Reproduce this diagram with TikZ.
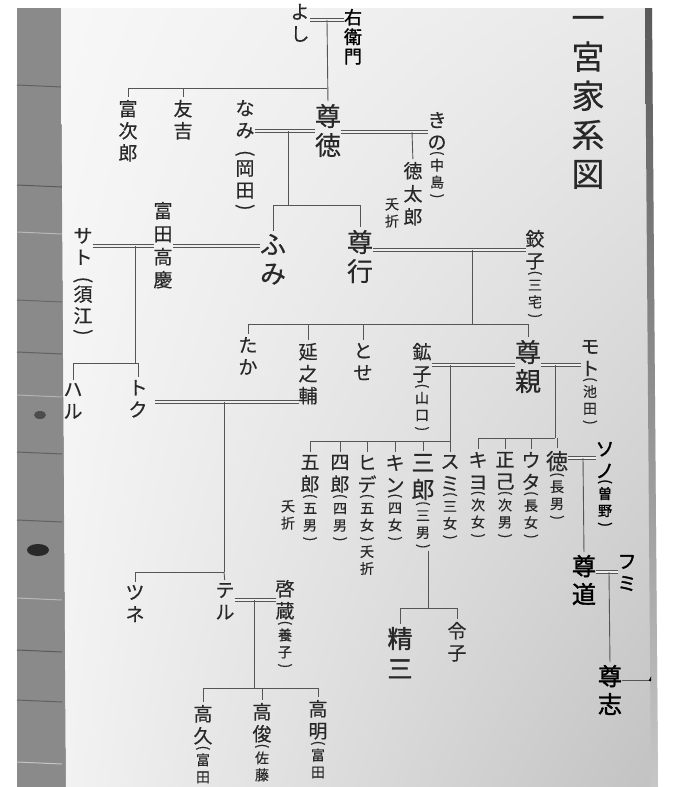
\documentclass[tikz,border=0pt]{standalone}
\usepackage{fontspec}
\usetikzlibrary{shadings}
\newfontfamily\cjk[FakeBold=0.4]{Noto Sans CJK JP}
\newfontfamily\cjkb[FakeBold=1.6]{Noto Sans CJK JP}
\newcommand{\vlp}{\rotatebox[origin=c]{-90}{(}}
\newcommand{\vrp}{\rotatebox[origin=c]{-90}{)}}
\definecolor{ink}{HTML}{282828}
\definecolor{lnc}{HTML}{555555}
\definecolor{paperc}{HTML}{EEEEEE}
\definecolor{wood}{HTML}{8A8A8A}
\begin{document}
\begin{tikzpicture}[x=1pt,y=-1pt,
  every node/.style={inner sep=0pt,outer sep=0pt,align=center,anchor=north,text=ink},
  nm/.style={font=\cjk\fontsize{19}{22}\selectfont},
  big/.style={font=\cjk\fontsize{26}{29}\selectfont},
  sm/.style={font=\cjk\fontsize{14}{17}\selectfont},
  ttl/.style={font=\cjk\fontsize{33}{39}\selectfont},
  hw/.style={font=\cjkb\fontsize{19}{22}\selectfont,text=black},
  hwbig/.style={font=\cjkb\fontsize{24}{28}\selectfont,text=black},
  hwsm/.style={font=\cjkb\fontsize{14}{17}\selectfont,text=black},
  ln/.style={draw=lnc,line width=0.9pt},
  dbl/.style={draw=lnc,line width=0.7pt,double=paperc,double distance=1.8pt},
  drop/.style={ln,shorten >=3pt},
]
\useasboundingbox (0,0) rectangle (675,787);
% ---------- background (photo) ----------
\fill[white] (0,0) rectangle (675,787);
\fill[wood] (17,8) -- (61,8) -- (66,787) -- (17,787) -- cycle;
\foreach \yy/\cc in {85/wood!70!black,185/wood!65!black,232/wood!60!white,300/wood!75!black,352/wood!70!black,395/wood!65!white,452/wood!70!black,520/wood!70!black,598/wood!60!white,650/wood!65!black,700/wood!70!black,762/wood!50!white}
  \draw[\cc,line width=1pt] (17,\yy) -- (62,\yy+2);
\fill[wood!55!black] (40,415) ellipse (6pt and 4pt);
\fill[wood!30!black] (38,550) ellipse (11pt and 6pt);
\shade[upper left=black!3,upper right=black!9,lower left=black!5,lower right=black!24]
  (61,8) -- (652,8) -- (658,787) -- (66,787) -- cycle;
\shade[top color=black!65,bottom color=black!22] (645,8) -- (652,8) -- (658,787) -- (651,787) -- cycle;
% ---------- title ----------
\node[ttl] (title) at (588,16) {一\\宮\\家\\系\\図};
% ---------- generation 1 ----------
\node[nm] (yoshi) at (300,4) {よ\\し};
\node[hw,font=\cjkb\fontsize{18}{19.5}\selectfont] (uemon) at (353,9) {右\\衛\\門};
\coordinate (mY) at (327,20);
\draw[dbl] (yoshi.east |- mY) -- (uemon.west |- mY);
% ---------- generation 2 ----------
\node[big] (sontoku) at (328,104) {尊\\徳};
\node[nm] (tomijiro) at (128,100) {富\\次\\郎};
\node[nm] (tomokichi) at (183,100) {友\\吉};
\coordinate (bY) at (327,88);
\draw[drop] (mY) -- (sontoku.north);
\draw[ln] (tomijiro.north |- bY) -- (bY);
\draw[drop] (tomijiro.north |- bY) -- (tomijiro.north);
\draw[drop] (tomokichi.north |- bY) -- (tomokichi.north);
\node[nm] (nami) at (245,100) {な\\み\\\vlp\\[-6pt]岡\\田\\[-6pt]\vrp};
\coordinate (mN) at (288,131);
\draw[dbl] (nami.east |- mN) -- (sontoku.west |- mN);
\node[nm] (kino) at (437,112) {き\\の};
\node[sm] (kinoA) at ([yshift=-1pt]kino.south) {\vlp\\[-4pt]中\\島\\[-4pt]\vrp};
\coordinate (mK) at (412,132);
\draw[dbl] (sontoku.east |- mK) -- (kino.west |- mK);
\node[nm,font=\cjk\fontsize{19}{23}\selectfont] (tokutaro) at (413,162) {徳\\太\\郎};
\draw[drop] (mK) -- (tokutaro.north);
\node[sm] (yo1) at (392,198) {夭\\折};
% ---------- generation 3 ----------
\node[big] (fumi) at (273,234) {ふ\\み};
\node[big] (takayuki) at (360,230) {尊\\行};
\coordinate (cN) at (288,205);
\draw[ln] (mN) -- (cN);
\draw[ln] (fumi.north |- cN) -- (takayuki.north |- cN);
\draw[drop] (fumi.north |- cN) -- (fumi.north);
\draw[drop] (takayuki.north |- cN) -- (takayuki.north);
\node[nm,font=\cjk\fontsize{19}{23}\selectfont] (takayoshi) at (163,202) {富\\田\\高\\慶};
\node[nm,font=\cjk\fontsize{19}{21.5}\selectfont] (sato) at (83,228) {サ\\ト\\\vlp\\[-6pt]須\\江\\[-6pt]\vrp};
\coordinate (mS) at (135,246);
\draw[dbl] (sato.east |- mS) -- (takayoshi.west |- mS);
\draw[dbl] (takayoshi.east |- mS) -- (fumi.west |- mS);
\node[nm] (haru) at (73,383) {ハ\\ル};
\node[nm] (toku) at (138,380) {ト\\ク};
\coordinate (cS) at (135,363);
\draw[ln] (mS) -- (cS);
\draw[ln] (haru.north |- cS) -- (toku.north |- cS);
\draw[drop] (haru.north |- cS) -- (haru.north);
\draw[drop] (toku.north |- cS) -- (toku.north);
\node[nm] (koko1) at (535,230) {鉸\\子};
\node[sm] (koko1A) at ([yshift=-1pt]koko1.south) {\vlp\\[-4pt]三\\宅\\[-4pt]\vrp};
\coordinate (mT) at (472,250);
\draw[dbl] (takayuki.east |- mT) -- (koko1.west |- mT);
% ---------- generation 4 ----------
\coordinate (cT) at (472,324);
\draw[ln] (mT) -- (cT);
\node[nm] (taka) at (248,337) {た\\か};
\node[nm] (nobu) at (308,343) {延\\之\\輔};
\node[nm] (tose) at (363,343) {と\\せ};
\node[big] (chika) at (528,340) {尊\\親};
\draw[ln] (taka.north |- cT) -- (chika.north |- cT);
\foreach \n in {taka,nobu,tose,chika} \draw[drop] (\n.north |- cT) -- (\n.north);
% Nobunosuke x Toku
\coordinate (mNT) at (224,402);
\draw[dbl,shorten <=7pt] (toku.east |- mNT) -- (nobu.west |- mNT);
\coordinate (cNT) at (224,572);
\draw[ln] (mNT) -- (cNT);
\node[nm] (tsune) at (135,585) {ツ\\ネ};
\node[nm] (teru) at (225,583) {テ\\ル};
\draw[ln] (tsune.north |- cNT) -- (cNT);
\draw[drop] (tsune.north |- cNT) -- (tsune.north);
\draw[drop] (cNT) -- (teru.north);
\node[nm] (keizo) at (285,580) {啓\\蔵};
\node[sm] (keizoA) at ([yshift=-1pt]keizo.south) {\vlp\\[-4pt]養\\子\\[-4pt]\vrp};
\coordinate (mTK) at (254,600);
\draw[dbl] (teru.east |- mTK) -- (keizo.west |- mTK);
\coordinate (cTK) at (254,688);
\draw[ln] (mTK) -- (cTK);
\node[nm] (hisa) at (203,705) {高\\久};
\node[sm] (hisaA) at ([yshift=-1pt]hisa.south) {\vlp\\[-4pt]富\\田};
\node[nm] (toshi) at (262,703) {高\\俊};
\node[sm] (toshiA) at ([yshift=-1pt]toshi.south) {\vlp\\[-4pt]佐\\藤};
\node[nm] (aki) at (318,700) {高\\明};
\node[sm] (akiA) at ([yshift=-1pt]aki.south) {\vlp\\[-4pt]富\\田};
\draw[ln] (hisa.north |- cTK) -- (aki.north |- cTK);
\foreach \n in {hisa,toshi,aki} \draw[drop] (\n.north |- cTK) -- (\n.north);
% Takachika x Koko (Yamaguchi)
\node[nm] (koko2) at (422,343) {鉱\\子};
\node[sm] (koko2A) at ([yshift=-1pt]koko2.south) {\vlp\\[-4pt]山\\口\\[-4pt]\vrp};
\coordinate (mC) at (450,365);
\draw[dbl] (koko2.east |- mC) -- (chika.west |- mC);
\coordinate (cC) at (450,441);
\draw[ln] (mC) -- (cC);
\node[nm] (goro) at (310,455) {五\\郎};
\node[nm] (shiro) at (340,455) {四\\郎};
\node[nm] (hide) at (367,455) {ヒ\\デ};
\node[nm] (kin) at (395,455) {キ\\ン};
\node[nm,font=\cjk\fontsize{23}{27}\selectfont] (saburo) at (423,454) {三\\郎};
\node[nm] (sumi) at (450,455) {ス\\ミ};
\foreach \n/\t in {goro/五\\男,shiro/四\\男,hide/五\\女,kin/四\\女,saburo/三\\男,sumi/三\\女}
  \node[sm] (\n A) at ([yshift=-1pt]\n.south) {\vlp\\[-4pt]\t\\[-4pt]\vrp};
\node[sm] (yo2) at (288,500) {夭\\折};
\node[sm] (yo3) at ([yshift=-2pt]hideA.south) {夭\\折};
\draw[ln] (goro.north |- cC) -- (cC);
\foreach \n in {goro,shiro,hide,kin,saburo,sumi} \draw[drop] (\n.north |- cC) -- (\n.north);
% Takachika x Moto
\node[nm] (moto) at (590,340) {モ\\ト};
\node[sm] (motoA) at ([yshift=-1pt]moto.south) {\vlp\\[-4pt]池\\田\\[-4pt]\vrp};
\coordinate (mM) at (555,365);
\draw[dbl] (chika.east |- mM) -- (moto.west |- mM);
\coordinate (cM) at (555,438);
\draw[ln] (mM) -- (cM);
\node[nm] (kiyo) at (478,452) {キ\\ヨ};
\node[nm] (masami) at (505,452) {正\\己};
\node[nm] (uta) at (531,452) {ウ\\タ};
\node[nm,font=\cjk\fontsize{22}{25}\selectfont] (toku2) at (557,451) {徳};
\foreach \n/\t in {kiyo/次\\女,masami/次\\男,uta/長\\女,toku2/長\\男}
  \node[sm] (\n A) at ([yshift=-1pt]\n.south) {\vlp\\[-4pt]\t\\[-4pt]\vrp};
\draw[ln] (kiyo.north |- cM) -- (cM);
\foreach \n in {kiyo,masami,uta,toku2} \draw[drop] (\n.north |- cM) -- (\n.north);
% Saburo's children
\node[nm,font=\cjkb\fontsize{25}{30}\selectfont] (seizo) at (400,627) {精\\三};
\node[nm] (reiko) at (457,622) {令\\子};
\coordinate (cSa) at (428,608);
\draw[ln] (saburoA.south -| cSa) -- (cSa);
\draw[ln] (seizo.north |- cSa) -- (reiko.north |- cSa);
\draw[drop] (seizo.north |- cSa) -- (seizo.north);
\draw[drop] (reiko.north |- cSa) -- (reiko.north);
% handwritten additions
\node[hw] (sono) at (605,442) {ソ\\ノ};
\node[hwsm] (sonoA) at ([yshift=-1pt]sono.south) {\vlp\\[-4pt]曽\\野\\[-4pt]\vrp};
\coordinate (mSo) at (583,458);
\draw[dbl] (toku2.east |- mSo) -- (sono.west |- mSo);
\node[hwbig] (michi) at (584,555) {尊\\道};
\draw[drop] (mSo) -- (michi.north);
\node[hw] (fumi2) at (627,555) {フ\\ミ};
\coordinate (mF) at (609,572);
\draw[dbl] (michi.east |- mF) -- (fumi2.west |- mF);
\node[hwbig] (takashi) at (610,665) {尊\\志};
\draw[drop] (mF) -- (takashi.north);
\coordinate (eT) at (650,680);
\draw[ln] (takashi.east |- eT) -- (eT);
\begin{scope}
\clip (640,600) rectangle (651,720);
\node[hw] (ha) at (657,668) {ハ};
\end{scope}
\end{tikzpicture}
\end{document}
